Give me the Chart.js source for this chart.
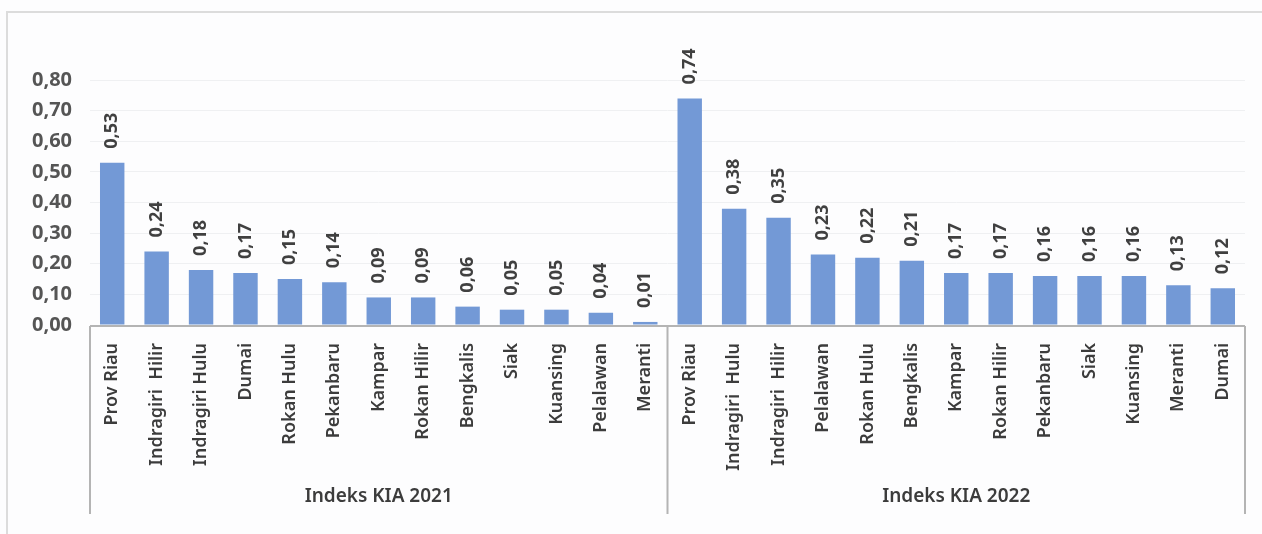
<!DOCTYPE html>
<html>
<head>
<meta charset="utf-8">
<script src="https://cdn.jsdelivr.net/npm/chart.js@4/dist/chart.umd.min.js"></script>
<style>
  html, body { margin: 0; padding: 0; background: #fdfdfe; }
  #wrap { width: 1262px; height: 534px; position: relative; }
</style>
</head>
<body>
<div id="wrap"><canvas id="grafik_kia"></canvas></div>
<script>
// data
var kategori_2021 = ['Prov Riau', 'Indragiri  Hilir', 'Indragiri Hulu', 'Dumai', 'Rokan Hulu', 'Pekanbaru', 'Kampar', 'Rokan Hilir', 'Bengkalis', 'Siak', 'Kuansing', 'Pelalawan', 'Meranti'];
var nilai_2021 = [0.53, 0.24, 0.18, 0.17, 0.15, 0.14, 0.09, 0.09, 0.06, 0.05, 0.05, 0.04, 0.01];
var kategori_2022 = ['Prov Riau', 'Indragiri  Hulu', 'Indragiri  Hilir', 'Pelalawan', 'Rokan Hulu', 'Bengkalis', 'Kampar', 'Rokan Hilir', 'Pekanbaru', 'Siak', 'Kuansing', 'Meranti', 'Dumai'];
var nilai_2022 = [0.74, 0.38, 0.35, 0.23, 0.22, 0.21, 0.17, 0.17, 0.16, 0.16, 0.16, 0.13, 0.12];
var grup = ['Indeks KIA 2021', 'Indeks KIA 2022'];
var y_ticks = [0, 0.1, 0.2, 0.3, 0.4, 0.5, 0.6, 0.7, 0.8];

var labels = kategori_2021.concat(kategori_2022);
var datos = nilai_2021.concat(nilai_2022);
var tamaño_grupos = [kategori_2021.length, kategori_2022.length];

function koma(v) { return v.toFixed(2).replace('.', ','); }

const labelPlugin = {
  id: 'labelPlugin',
  beforeDraw(chart) {
    // marco claro de fondo
    const ctx = chart.ctx;
    ctx.save();
    ctx.strokeStyle = '#dcdcdc';
    ctx.lineWidth = 2;
    ctx.beginPath();
    ctx.moveTo(7, 540);
    ctx.lineTo(7, 12);
    ctx.lineTo(1270, 12);
    ctx.stroke();
    ctx.restore();
  },
  afterDatasetsDraw(chart) {
    const ctx = chart.ctx;
    const meta = chart.getDatasetMeta(0);
    ctx.save();
    ctx.fillStyle = '#404040';
    ctx.font = 'bold 18px "Open Sans"';
    ctx.textAlign = 'left';
    ctx.textBaseline = 'middle';
    meta.data.forEach(function(bar, i) {
      ctx.save();
      ctx.translate(bar.x, bar.y - 14);
      ctx.rotate(-Math.PI / 2);
      ctx.fillText(koma(datos[i]), 0, 0);
      ctx.restore();
    });
    ctx.restore();
  },
  afterDraw(chart) {
    const ctx = chart.ctx;
    const x = chart.scales.x;
    const area = chart.chartArea;
    const bottom = 514;
    ctx.save();
    ctx.strokeStyle = '#b4b4b4';
    ctx.lineWidth = 2;
    ctx.beginPath();
    ctx.moveTo(area.left, area.bottom + 1);
    ctx.lineTo(area.right, area.bottom + 1);
    var idx = 0;
    var bordes = [area.left];
    for (var g = 0; g < tamaño_grupos.length; g++) {
      idx += tamaño_grupos[g];
      bordes.push(idx >= labels.length ? area.right : (x.getPixelForValue(idx - 1) + x.getPixelForValue(idx)) / 2);
    }
    bordes.forEach(function(b) {
      ctx.moveTo(b, area.bottom + 1);
      ctx.lineTo(b, bottom);
    });
    ctx.stroke();
    ctx.fillStyle = '#3c3c3c';
    ctx.font = '600 19px "Noto Sans"';
    ctx.textAlign = 'center';
    ctx.textBaseline = 'middle';
    for (var g = 0; g < grup.length; g++) {
      ctx.fillText(grup[g], (bordes[g] + bordes[g + 1]) / 2, 497);
    }
    ctx.restore();
  }
};

new Chart(document.getElementById('grafik_kia'), {
  type: 'bar',
  data: {
    labels: labels,
    datasets: [{
      data: datos,
      backgroundColor: '#7399d6',
      borderWidth: 0,
      categoryPercentage: 1,
      barPercentage: 0.55
    }]
  },
  options: {
    responsive: true,
    maintainAspectRatio: false,
    animation: false,
    layout: { padding: { top: 80, right: 17, left: 0, bottom: 0 } },
    plugins: { legend: { display: false }, tooltip: { enabled: false } },
    scales: {
      y: {
        min: 0,
        max: 0.8,
        afterBuildTicks: function(scale) { scale.ticks = y_ticks.map(function(v) { return { value: v }; }); },
        afterFit: function(scale) { scale.width = 90; },
        ticks: {
          color: '#555555',
          font: { family: '"Open Sans"', size: 20, weight: 'bold' },
          padding: 18,
          callback: function(v) { return koma(v); }
        },
        grid: { color: '#eff0f2', drawTicks: false },
        border: { display: false }
      },
      x: {
        afterFit: function(scale) { scale.height = 534 - 325; },
        ticks: {
          color: '#3c3c3c',
          font: { family: '"Noto Sans"', size: 18, weight: '600' },
          minRotation: 90,
          maxRotation: 90,
          autoSkip: false,
          padding: 10
        },
        grid: { display: false },
        border: { display: false }
      }
    }
  },
  plugins: [labelPlugin]
});
</script>
</body>
</html>
